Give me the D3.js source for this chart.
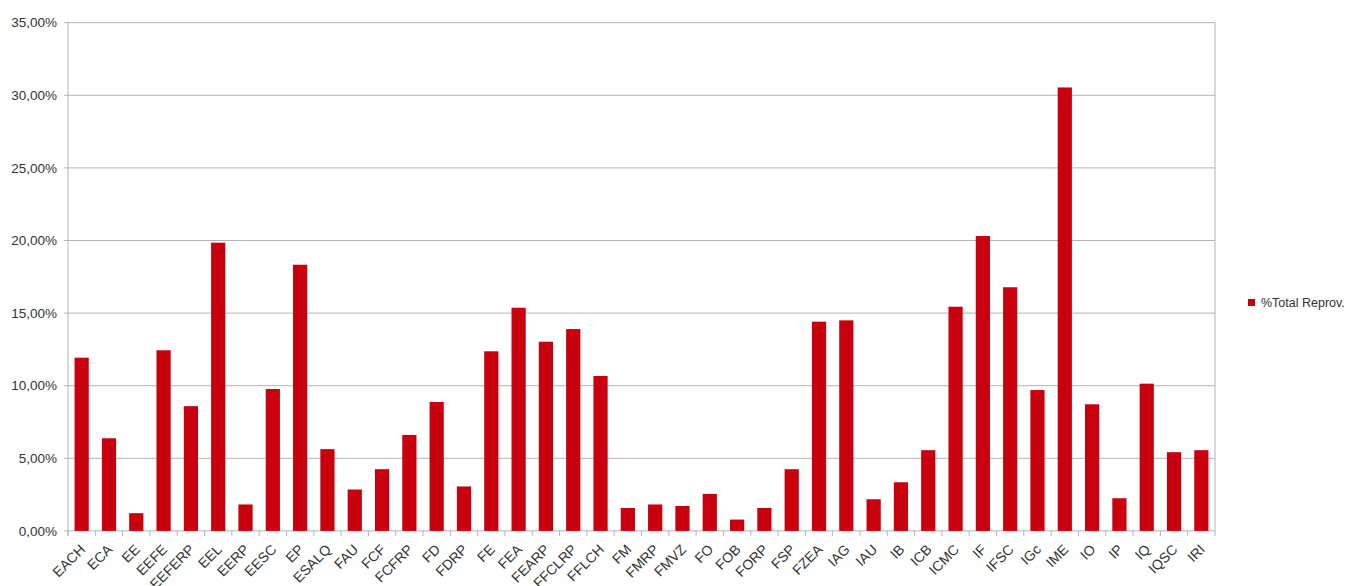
<!DOCTYPE html>
<meta charset="utf-8">
<style>
body { margin: 0; background: #fff; }
svg text { font-family: "Liberation Sans", Arial, sans-serif; fill: #333; }
</style>
<svg width="1356" height="586"></svg>
<script src="https://cdn.jsdelivr.net/npm/d3@7"></script>
<script>

// categories (units) and % total reprovação
var units = ["EACH","ECA","EE","EEFE","EEFERP","EEL","EERP","EESC","EP","ESALQ",
  "FAU","FCF","FCFRP","FD","FDRP","FE","FEA","FEARP","FFCLRP","FFLCH",
  "FM","FMRP","FMVZ","FO","FOB","FORP","FSP","FZEA","IAG","IAU",
  "IB","ICB","ICMC","IF","IFSC","IGc","IME","IO","IP","IQ","IQSC","IRI"];

var reprov = [11.93, 6.38, 1.22, 12.44, 8.59, 19.85, 1.82, 9.77, 18.33, 5.63,
  2.85, 4.25, 6.61, 8.88, 3.06, 12.37, 15.37, 13.03, 13.9, 10.67,
  1.58, 1.82, 1.72, 2.55, 0.78, 1.58, 4.25, 14.41, 14.5, 2.18,
  3.35, 5.56, 15.44, 20.31, 16.78, 9.70, 30.54, 8.72, 2.25, 10.14, 5.42, 5.56];

var yTicks = [0, 5, 10, 15, 20, 25, 30, 35];
var seriesName = "%Total Reprov.";

var svg = d3.select("svg");
// plot box (note: "top" is taken by window.top, so prefixed names)
var plotL = 68, plotR = 1215, plotT = 22.7, plotB = 530.9;
var barColor = "#c9000e", gridColor = "#b3b3b3";

var x = d3.scaleBand()
    .domain(units)
    .range([plotL, plotR])
    .paddingInner(0.48)
    .paddingOuter(0.24);

var y = d3.scaleLinear()
    .domain([0, 35])
    .range([plotB, plotT]);

// gridlines
svg.append("g")
  .selectAll("line")
  .data(yTicks)
  .enter().append("line")
    .attr("x1", plotL - 4)
    .attr("x2", plotR)
    .attr("y1", function(d) { return y(d); })
    .attr("y2", function(d) { return y(d); })
    .attr("stroke", gridColor)
    .attr("stroke-width", 1);

// left and right frame lines
svg.append("line")
    .attr("x1", plotL).attr("x2", plotL)
    .attr("y1", plotT).attr("y2", plotB + 5)
    .attr("stroke", gridColor);
svg.append("line")
    .attr("x1", plotR).attr("x2", plotR)
    .attr("y1", plotT).attr("y2", plotB + 5)
    .attr("stroke", gridColor);

// category ticks at band boundaries
var step = x.step();
svg.append("g")
  .selectAll("line")
  .data(units)
  .enter().append("line")
    .attr("x1", function(d, i) { return plotL + i * step; })
    .attr("x2", function(d, i) { return plotL + i * step; })
    .attr("y1", plotB)
    .attr("y2", plotB + 5)
    .attr("stroke", gridColor);

// bars
svg.append("g")
  .selectAll("rect")
  .data(reprov)
  .enter().append("rect")
    .attr("x", function(d, i) { return x(units[i]); })
    .attr("width", x.bandwidth())
    .attr("y", function(d) { return y(d); })
    .attr("height", function(d) { return y(0) - y(d); })
    .attr("fill", barColor);

// y labels
svg.append("g")
  .selectAll("text")
  .data(yTicks)
  .enter().append("text")
    .attr("x", plotL - 11)
    .attr("y", function(d) { return y(d); })
    .attr("dy", "0.35em")
    .attr("text-anchor", "end")
    .style("font-size", "13.5px")
    .text(function(d) { return d.toFixed(2).replace(".", ",") + "%"; });

// x labels, rotated
svg.append("g")
  .selectAll("text")
  .data(units)
  .enter().append("text")
    .attr("transform", function(d) {
      return "translate(" + (x(d) + x.bandwidth() / 2 + 1) + "," + (plotB + 16) + ") rotate(-45)";
    })
    .attr("text-anchor", "end")
    .attr("dy", "0.35em")
    .style("font-size", "14px")
    .text(function(d) { return d; });

// legend
var lg = svg.append("g").attr("transform", "translate(1248,299)");
lg.append("rect").attr("width", 7).attr("height", 7).attr("fill", barColor);
lg.append("text")
    .attr("x", 13)
    .attr("y", 7.5)
    .style("font-size", "12.5px")
    .text(seriesName);

</script>
